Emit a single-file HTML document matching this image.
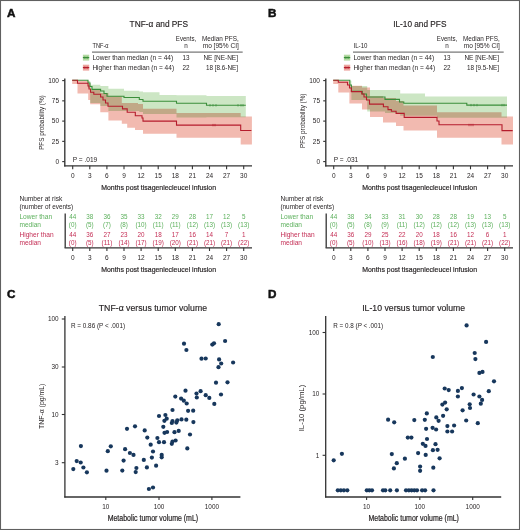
<!DOCTYPE html>
<html><head><meta charset="utf-8"><style>
html,body{margin:0;padding:0;background:#fff;}
.wrap{position:relative;width:520px;height:530px;overflow:hidden;background:#fff;}
svg{position:absolute;left:0;top:0;font-family:"Liberation Sans", sans-serif;}
</style></head><body><div class="wrap">
<svg width="520" height="530" viewBox="0 0 520 530">
<rect x="0.5" y="0.5" width="519" height="529" fill="#fff" stroke="#606060" stroke-width="1.1"/>
<text x="158.8" y="26.6" font-size="8.6" text-anchor="middle" textLength="58.4" lengthAdjust="spacingAndGlyphs" fill="#231f20" stroke="#231f20" stroke-width="0.15">TNF-α and PFS</text>
<text x="92.5" y="47.6" font-size="6.3" textLength="16" lengthAdjust="spacingAndGlyphs" fill="#231f20">TNF-α</text>
<text x="186" y="40.8" font-size="6.3" text-anchor="middle" textLength="20.4" lengthAdjust="spacingAndGlyphs" fill="#231f20">Events,</text>
<text x="186" y="47.6" font-size="6.3" text-anchor="middle" fill="#231f20">n</text>
<text x="238.8" y="40.8" font-size="6.3" text-anchor="end" textLength="36.9" lengthAdjust="spacingAndGlyphs" fill="#231f20">Median PFS,</text>
<text x="238.8" y="47.6" font-size="6.3" text-anchor="end" textLength="36.1" lengthAdjust="spacingAndGlyphs" fill="#231f20">mo [95% CI]</text>
<line x1="92" y1="52.1" x2="242.7" y2="52.1" stroke="#444" stroke-width="0.9"/>
<rect x="82.9" y="54.7" width="6.3" height="5.9" fill="#b3daa3"/>
<line x1="82.9" y1="57.6" x2="89.2" y2="57.6" stroke="#3a8e3a" stroke-width="1.2"/>
<line x1="84.4" y1="56.5" x2="84.4" y2="58.7" stroke="#3a8e3a" stroke-width="0.6"/>
<line x1="86" y1="56.5" x2="86" y2="58.7" stroke="#3a8e3a" stroke-width="0.6"/>
<line x1="87.6" y1="56.5" x2="87.6" y2="58.7" stroke="#3a8e3a" stroke-width="0.6"/>
<rect x="82.9" y="64.69999999999999" width="6.3" height="5.9" fill="#eda59f"/>
<line x1="82.9" y1="67.6" x2="89.2" y2="67.6" stroke="#b51c2c" stroke-width="1.2"/>
<line x1="84.4" y1="66.5" x2="84.4" y2="68.69999999999999" stroke="#b51c2c" stroke-width="0.6"/>
<line x1="86" y1="66.5" x2="86" y2="68.69999999999999" stroke="#b51c2c" stroke-width="0.6"/>
<line x1="87.6" y1="66.5" x2="87.6" y2="68.69999999999999" stroke="#b51c2c" stroke-width="0.6"/>
<text x="92.4" y="59.9" font-size="6.3" textLength="80.8" lengthAdjust="spacingAndGlyphs" fill="#231f20">Lower than median (n = 44)</text>
<text x="92.4" y="70.1" font-size="6.3" textLength="81.7" lengthAdjust="spacingAndGlyphs" fill="#231f20">Higher than median (n = 44)</text>
<text x="186" y="59.9" font-size="6.3" text-anchor="middle" fill="#231f20">13</text>
<text x="186" y="70.1" font-size="6.3" text-anchor="middle" fill="#231f20">22</text>
<text x="238" y="59.9" font-size="6.3" text-anchor="end" textLength="34.6" lengthAdjust="spacingAndGlyphs" fill="#231f20">NE [NE-NE]</text>
<text x="238" y="70.1" font-size="6.3" text-anchor="end" textLength="32" lengthAdjust="spacingAndGlyphs" fill="#231f20">18 [8.6-NE]</text>
<path d="M72.2,80.3V80.3H88V81H90.2V84.7H100.3V86H108.4V88.8H124V90.8H139.3V91.5H143V92.2H159.5V95.1H176.5V95.2H206.5V96H245.8V117.3H206.5V117.5H176.5V113.9H159.5V113.9H143V112H139.3V111H124V111H108.4V106H100.3V102.9H90.2V88H88V80.3H72.2Z" fill="#cce6c4" style="mix-blend-mode:multiply"/>
<path d="M72.2,80.3V80.3H77.5V80.8H88.2V84H90.2V89.5H100.3V93H108.4V96.2H121.8V102.9H127.2V102.9H135V102.9H138V104H143V108.8H176.5V113H240.7V116.4H251.9V144.4H240.7V137.8H176.5V133.8H143V130H138V130H135V127.8H127.2V123.8H121.8V120.4H108.4V112.3H100.3V104.3H90.2V100H88.2V93.5H77.5V84H72.2Z" fill="#f2bab0" style="mix-blend-mode:multiply"/>
<path d="M72.2,80.3H88V83H90V86.5H92V89.4H100.6V91H104V93.5H107V96.2H124V97.5H139.3V99.5H143V101.2H176.5V103.3H206.5V105.3H245.8" fill="none" stroke="#3a8e3a" stroke-width="1.1"/>
<path d="M72.2,80.3H77.5V83.2H88V86H89V89H90.5V92.3H93.8V94.2H100.6V97H103V100H105.5V103H108V106.2H122.5V108.9H127.2V112.3H135.3V115.7H142V118H143V121.1H176.5V125.1H240.7V130.5H251.4" fill="none" stroke="#b51c2c" stroke-width="1.1"/>
<line x1="210" y1="104.1" x2="210" y2="106.5" stroke="#3a8e3a" stroke-width="0.7"/>
<line x1="213" y1="104.1" x2="213" y2="106.5" stroke="#3a8e3a" stroke-width="0.7"/>
<line x1="216" y1="104.1" x2="216" y2="106.5" stroke="#3a8e3a" stroke-width="0.7"/>
<line x1="238" y1="104.1" x2="238" y2="106.5" stroke="#3a8e3a" stroke-width="0.7"/>
<line x1="241" y1="104.1" x2="241" y2="106.5" stroke="#3a8e3a" stroke-width="0.7"/>
<line x1="243" y1="104.1" x2="243" y2="106.5" stroke="#3a8e3a" stroke-width="0.7"/>
<line x1="213" y1="123.89999999999999" x2="213" y2="126.3" stroke="#b51c2c" stroke-width="0.7"/>
<line x1="215" y1="123.89999999999999" x2="215" y2="126.3" stroke="#b51c2c" stroke-width="0.7"/>
<line x1="64.8" y1="78.5" x2="64.8" y2="166.4" stroke="#333" stroke-width="1.35"/>
<line x1="64.2" y1="165.8" x2="252" y2="165.8" stroke="#333" stroke-width="1.3"/>
<line x1="62.2" y1="80.6" x2="64.8" y2="80.6" stroke="#333" stroke-width="1.1"/>
<text x="59" y="82.89999999999999" font-size="6.5" text-anchor="end" fill="#231f20">100</text>
<line x1="62.2" y1="100.85" x2="64.8" y2="100.85" stroke="#333" stroke-width="1.1"/>
<text x="59" y="103.14999999999999" font-size="6.5" text-anchor="end" fill="#231f20">75</text>
<line x1="62.2" y1="121.1" x2="64.8" y2="121.1" stroke="#333" stroke-width="1.1"/>
<text x="59" y="123.39999999999999" font-size="6.5" text-anchor="end" fill="#231f20">50</text>
<line x1="62.2" y1="141.35" x2="64.8" y2="141.35" stroke="#333" stroke-width="1.1"/>
<text x="59" y="143.65" font-size="6.5" text-anchor="end" fill="#231f20">25</text>
<line x1="62.2" y1="161.6" x2="64.8" y2="161.6" stroke="#333" stroke-width="1.1"/>
<text x="59" y="163.9" font-size="6.5" text-anchor="end" fill="#231f20">0</text>
<line x1="72.7" y1="165.8" x2="72.7" y2="169.3" stroke="#333" stroke-width="1.1"/>
<text x="72.7" y="177.6" font-size="6.5" text-anchor="middle" fill="#231f20">0</text>
<line x1="89.80000000000001" y1="165.8" x2="89.80000000000001" y2="169.3" stroke="#333" stroke-width="1.1"/>
<text x="89.80000000000001" y="177.6" font-size="6.5" text-anchor="middle" fill="#231f20">3</text>
<line x1="106.9" y1="165.8" x2="106.9" y2="169.3" stroke="#333" stroke-width="1.1"/>
<text x="106.9" y="177.6" font-size="6.5" text-anchor="middle" fill="#231f20">6</text>
<line x1="124.0" y1="165.8" x2="124.0" y2="169.3" stroke="#333" stroke-width="1.1"/>
<text x="124.0" y="177.6" font-size="6.5" text-anchor="middle" fill="#231f20">9</text>
<line x1="141.10000000000002" y1="165.8" x2="141.10000000000002" y2="169.3" stroke="#333" stroke-width="1.1"/>
<text x="141.10000000000002" y="177.6" font-size="6.5" text-anchor="middle" fill="#231f20">12</text>
<line x1="158.2" y1="165.8" x2="158.2" y2="169.3" stroke="#333" stroke-width="1.1"/>
<text x="158.2" y="177.6" font-size="6.5" text-anchor="middle" fill="#231f20">15</text>
<line x1="175.3" y1="165.8" x2="175.3" y2="169.3" stroke="#333" stroke-width="1.1"/>
<text x="175.3" y="177.6" font-size="6.5" text-anchor="middle" fill="#231f20">18</text>
<line x1="192.40000000000003" y1="165.8" x2="192.40000000000003" y2="169.3" stroke="#333" stroke-width="1.1"/>
<text x="192.40000000000003" y="177.6" font-size="6.5" text-anchor="middle" fill="#231f20">21</text>
<line x1="209.5" y1="165.8" x2="209.5" y2="169.3" stroke="#333" stroke-width="1.1"/>
<text x="209.5" y="177.6" font-size="6.5" text-anchor="middle" fill="#231f20">24</text>
<line x1="226.60000000000002" y1="165.8" x2="226.60000000000002" y2="169.3" stroke="#333" stroke-width="1.1"/>
<text x="226.60000000000002" y="177.6" font-size="6.5" text-anchor="middle" fill="#231f20">27</text>
<line x1="243.7" y1="165.8" x2="243.7" y2="169.3" stroke="#333" stroke-width="1.1"/>
<text x="243.7" y="177.6" font-size="6.5" text-anchor="middle" fill="#231f20">30</text>
<text x="158.6" y="189.6" font-size="8.1" text-anchor="middle" textLength="114.8" lengthAdjust="spacingAndGlyphs" fill="#231f20" stroke="#231f20" stroke-width="0.2">Months post tisagenlecleucel infusion</text>
<text x="44.3" y="122.6" font-size="7" text-anchor="middle" textLength="54.5" lengthAdjust="spacingAndGlyphs" fill="#231f20" transform="rotate(-90 44.3 122.6)">PFS probability (%)</text>
<text x="72.7" y="161.5" font-size="6.3" textLength="24.6" lengthAdjust="spacingAndGlyphs" fill="#231f20">P = .019</text>
<text x="19.4" y="201" font-size="6.3" textLength="42.9" lengthAdjust="spacingAndGlyphs" fill="#231f20">Number at risk</text>
<text x="19.4" y="208.5" font-size="6.3" textLength="53.8" lengthAdjust="spacingAndGlyphs" fill="#231f20">(number of events)</text>
<text x="19.4" y="219.1" font-size="6.3" textLength="32.7" lengthAdjust="spacingAndGlyphs" fill="#5cb05c">Lower than</text>
<text x="19.4" y="226.7" font-size="6.3" textLength="21.6" lengthAdjust="spacingAndGlyphs" fill="#5cb05c">median</text>
<text x="19.4" y="236.7" font-size="6.3" textLength="34.2" lengthAdjust="spacingAndGlyphs" fill="#c42e55">Higher than</text>
<text x="19.4" y="244.7" font-size="6.3" textLength="21.6" lengthAdjust="spacingAndGlyphs" fill="#c42e55">median</text>
<line x1="65.2" y1="213.5" x2="65.2" y2="247.8" stroke="#333" stroke-width="1.3"/>
<line x1="64.55" y1="247.8" x2="252" y2="247.8" stroke="#333" stroke-width="1.3"/>
<line x1="72.7" y1="247.8" x2="72.7" y2="251" stroke="#333" stroke-width="1.1"/>
<text x="72.7" y="259.7" font-size="6.5" text-anchor="middle" fill="#231f20">0</text>
<text x="72.7" y="219.1" font-size="6.3" text-anchor="middle" fill="#5cb05c">44</text>
<text x="72.7" y="226.7" font-size="6.3" text-anchor="middle" fill="#5cb05c">(0)</text>
<text x="72.7" y="236.7" font-size="6.3" text-anchor="middle" fill="#c42e55">44</text>
<text x="72.7" y="244.6" font-size="6.3" text-anchor="middle" fill="#c42e55">(0)</text>
<line x1="89.80000000000001" y1="247.8" x2="89.80000000000001" y2="251" stroke="#333" stroke-width="1.1"/>
<text x="89.80000000000001" y="259.7" font-size="6.5" text-anchor="middle" fill="#231f20">3</text>
<text x="89.80000000000001" y="219.1" font-size="6.3" text-anchor="middle" fill="#5cb05c">38</text>
<text x="89.80000000000001" y="226.7" font-size="6.3" text-anchor="middle" fill="#5cb05c">(5)</text>
<text x="89.80000000000001" y="236.7" font-size="6.3" text-anchor="middle" fill="#c42e55">36</text>
<text x="89.80000000000001" y="244.6" font-size="6.3" text-anchor="middle" fill="#c42e55">(5)</text>
<line x1="106.9" y1="247.8" x2="106.9" y2="251" stroke="#333" stroke-width="1.1"/>
<text x="106.9" y="259.7" font-size="6.5" text-anchor="middle" fill="#231f20">6</text>
<text x="106.9" y="219.1" font-size="6.3" text-anchor="middle" fill="#5cb05c">36</text>
<text x="106.9" y="226.7" font-size="6.3" text-anchor="middle" fill="#5cb05c">(7)</text>
<text x="106.9" y="236.7" font-size="6.3" text-anchor="middle" fill="#c42e55">27</text>
<text x="106.9" y="244.6" font-size="6.3" text-anchor="middle" fill="#c42e55">(11)</text>
<line x1="124.0" y1="247.8" x2="124.0" y2="251" stroke="#333" stroke-width="1.1"/>
<text x="124.0" y="259.7" font-size="6.5" text-anchor="middle" fill="#231f20">9</text>
<text x="124.0" y="219.1" font-size="6.3" text-anchor="middle" fill="#5cb05c">35</text>
<text x="124.0" y="226.7" font-size="6.3" text-anchor="middle" fill="#5cb05c">(8)</text>
<text x="124.0" y="236.7" font-size="6.3" text-anchor="middle" fill="#c42e55">23</text>
<text x="124.0" y="244.6" font-size="6.3" text-anchor="middle" fill="#c42e55">(14)</text>
<line x1="141.10000000000002" y1="247.8" x2="141.10000000000002" y2="251" stroke="#333" stroke-width="1.1"/>
<text x="141.10000000000002" y="259.7" font-size="6.5" text-anchor="middle" fill="#231f20">12</text>
<text x="141.10000000000002" y="219.1" font-size="6.3" text-anchor="middle" fill="#5cb05c">33</text>
<text x="141.10000000000002" y="226.7" font-size="6.3" text-anchor="middle" fill="#5cb05c">(10)</text>
<text x="141.10000000000002" y="236.7" font-size="6.3" text-anchor="middle" fill="#c42e55">20</text>
<text x="141.10000000000002" y="244.6" font-size="6.3" text-anchor="middle" fill="#c42e55">(17)</text>
<line x1="158.2" y1="247.8" x2="158.2" y2="251" stroke="#333" stroke-width="1.1"/>
<text x="158.2" y="259.7" font-size="6.5" text-anchor="middle" fill="#231f20">15</text>
<text x="158.2" y="219.1" font-size="6.3" text-anchor="middle" fill="#5cb05c">32</text>
<text x="158.2" y="226.7" font-size="6.3" text-anchor="middle" fill="#5cb05c">(11)</text>
<text x="158.2" y="236.7" font-size="6.3" text-anchor="middle" fill="#c42e55">18</text>
<text x="158.2" y="244.6" font-size="6.3" text-anchor="middle" fill="#c42e55">(19)</text>
<line x1="175.3" y1="247.8" x2="175.3" y2="251" stroke="#333" stroke-width="1.1"/>
<text x="175.3" y="259.7" font-size="6.5" text-anchor="middle" fill="#231f20">18</text>
<text x="175.3" y="219.1" font-size="6.3" text-anchor="middle" fill="#5cb05c">29</text>
<text x="175.3" y="226.7" font-size="6.3" text-anchor="middle" fill="#5cb05c">(11)</text>
<text x="175.3" y="236.7" font-size="6.3" text-anchor="middle" fill="#c42e55">17</text>
<text x="175.3" y="244.6" font-size="6.3" text-anchor="middle" fill="#c42e55">(20)</text>
<line x1="192.40000000000003" y1="247.8" x2="192.40000000000003" y2="251" stroke="#333" stroke-width="1.1"/>
<text x="192.40000000000003" y="259.7" font-size="6.5" text-anchor="middle" fill="#231f20">21</text>
<text x="192.40000000000003" y="219.1" font-size="6.3" text-anchor="middle" fill="#5cb05c">28</text>
<text x="192.40000000000003" y="226.7" font-size="6.3" text-anchor="middle" fill="#5cb05c">(12)</text>
<text x="192.40000000000003" y="236.7" font-size="6.3" text-anchor="middle" fill="#c42e55">16</text>
<text x="192.40000000000003" y="244.6" font-size="6.3" text-anchor="middle" fill="#c42e55">(21)</text>
<line x1="209.5" y1="247.8" x2="209.5" y2="251" stroke="#333" stroke-width="1.1"/>
<text x="209.5" y="259.7" font-size="6.5" text-anchor="middle" fill="#231f20">24</text>
<text x="209.5" y="219.1" font-size="6.3" text-anchor="middle" fill="#5cb05c">17</text>
<text x="209.5" y="226.7" font-size="6.3" text-anchor="middle" fill="#5cb05c">(13)</text>
<text x="209.5" y="236.7" font-size="6.3" text-anchor="middle" fill="#c42e55">14</text>
<text x="209.5" y="244.6" font-size="6.3" text-anchor="middle" fill="#c42e55">(21)</text>
<line x1="226.60000000000002" y1="247.8" x2="226.60000000000002" y2="251" stroke="#333" stroke-width="1.1"/>
<text x="226.60000000000002" y="259.7" font-size="6.5" text-anchor="middle" fill="#231f20">27</text>
<text x="226.60000000000002" y="219.1" font-size="6.3" text-anchor="middle" fill="#5cb05c">12</text>
<text x="226.60000000000002" y="226.7" font-size="6.3" text-anchor="middle" fill="#5cb05c">(13)</text>
<text x="226.60000000000002" y="236.7" font-size="6.3" text-anchor="middle" fill="#c42e55">7</text>
<text x="226.60000000000002" y="244.6" font-size="6.3" text-anchor="middle" fill="#c42e55">(21)</text>
<line x1="243.7" y1="247.8" x2="243.7" y2="251" stroke="#333" stroke-width="1.1"/>
<text x="243.7" y="259.7" font-size="6.5" text-anchor="middle" fill="#231f20">30</text>
<text x="243.7" y="219.1" font-size="6.3" text-anchor="middle" fill="#5cb05c">5</text>
<text x="243.7" y="226.7" font-size="6.3" text-anchor="middle" fill="#5cb05c">(13)</text>
<text x="243.7" y="236.7" font-size="6.3" text-anchor="middle" fill="#c42e55">1</text>
<text x="243.7" y="244.6" font-size="6.3" text-anchor="middle" fill="#c42e55">(22)</text>
<text x="158.6" y="271.5" font-size="8.1" text-anchor="middle" textLength="114.8" lengthAdjust="spacingAndGlyphs" fill="#231f20" stroke="#231f20" stroke-width="0.2">Months post tisagenlecleucel infusion</text>
<text x="419.8" y="26.6" font-size="8.6" text-anchor="middle" textLength="53.2" lengthAdjust="spacingAndGlyphs" fill="#231f20" stroke="#231f20" stroke-width="0.15">IL-10 and PFS</text>
<text x="353.5" y="47.6" font-size="6.3" textLength="14" lengthAdjust="spacingAndGlyphs" fill="#231f20">IL-10</text>
<text x="447" y="40.8" font-size="6.3" text-anchor="middle" textLength="20.4" lengthAdjust="spacingAndGlyphs" fill="#231f20">Events,</text>
<text x="447" y="47.6" font-size="6.3" text-anchor="middle" fill="#231f20">n</text>
<text x="499.8" y="40.8" font-size="6.3" text-anchor="end" textLength="36.9" lengthAdjust="spacingAndGlyphs" fill="#231f20">Median PFS,</text>
<text x="499.8" y="47.6" font-size="6.3" text-anchor="end" textLength="36.1" lengthAdjust="spacingAndGlyphs" fill="#231f20">mo [95% CI]</text>
<line x1="353" y1="52.1" x2="503.7" y2="52.1" stroke="#444" stroke-width="0.9"/>
<rect x="343.9" y="54.7" width="6.3" height="5.9" fill="#b3daa3"/>
<line x1="343.9" y1="57.6" x2="350.2" y2="57.6" stroke="#3a8e3a" stroke-width="1.2"/>
<line x1="345.4" y1="56.5" x2="345.4" y2="58.7" stroke="#3a8e3a" stroke-width="0.6"/>
<line x1="347" y1="56.5" x2="347" y2="58.7" stroke="#3a8e3a" stroke-width="0.6"/>
<line x1="348.6" y1="56.5" x2="348.6" y2="58.7" stroke="#3a8e3a" stroke-width="0.6"/>
<rect x="343.9" y="64.69999999999999" width="6.3" height="5.9" fill="#eda59f"/>
<line x1="343.9" y1="67.6" x2="350.2" y2="67.6" stroke="#b51c2c" stroke-width="1.2"/>
<line x1="345.4" y1="66.5" x2="345.4" y2="68.69999999999999" stroke="#b51c2c" stroke-width="0.6"/>
<line x1="347" y1="66.5" x2="347" y2="68.69999999999999" stroke="#b51c2c" stroke-width="0.6"/>
<line x1="348.6" y1="66.5" x2="348.6" y2="68.69999999999999" stroke="#b51c2c" stroke-width="0.6"/>
<text x="353.4" y="59.9" font-size="6.3" textLength="80.8" lengthAdjust="spacingAndGlyphs" fill="#231f20">Lower than median (n = 44)</text>
<text x="353.4" y="70.1" font-size="6.3" textLength="81.7" lengthAdjust="spacingAndGlyphs" fill="#231f20">Higher than median (n = 44)</text>
<text x="447" y="59.9" font-size="6.3" text-anchor="middle" fill="#231f20">13</text>
<text x="447" y="70.1" font-size="6.3" text-anchor="middle" fill="#231f20">22</text>
<text x="499" y="59.9" font-size="6.3" text-anchor="end" textLength="34.6" lengthAdjust="spacingAndGlyphs" fill="#231f20">NE [NE-NE]</text>
<text x="499" y="70.1" font-size="6.3" text-anchor="end" textLength="32" lengthAdjust="spacingAndGlyphs" fill="#231f20">18 [9.5-NE]</text>
<path d="M333.2,80.3V80.3H349.4V80.7H351.4V86.1H367.2V90.1H385V90.1H400.2V93.5H425V96.6H437V96.6H507V117.8H437V115.7H425V115.7H400.2V113H385V111.6H367.2V100H351.4V86H349.4V80.3H333.2Z" fill="#cce6c4" style="mix-blend-mode:multiply"/>
<path d="M333.2,80.3V80.3H338.3V81H349.4V85.8H362V87.5H370V96.2H383V98H396V101H403.5V105.5H437V112.3H501.5V116.5H513V144.5H501.5V137.8H437V130.5H403.5V126H396V122.4H383V117H370V109.6H362V103.6H349.4V92.5H338.3V84H333.2Z" fill="#f2bab0" style="mix-blend-mode:multiply"/>
<path d="M333.2,80.3H349.8V85H351.4V91.4H362.3V94H366.5V97H385V99.4H399.5V102H403.8V103.3H466.8V105.1H507" fill="none" stroke="#3a8e3a" stroke-width="1.1"/>
<path d="M333.2,80.3H338.3V82.2H347.5V85H349.5V88H351.4V91.6H361.8V94H364V97H366.5V100H369.5V104.1H383.4V106.8H388V109.6H391.4V111.2H396.1V113.4H404.2V117.4H437V121H439V124.8H502V130.6H512.7" fill="none" stroke="#b51c2c" stroke-width="1.1"/>
<line x1="471" y1="103.89999999999999" x2="471" y2="106.3" stroke="#3a8e3a" stroke-width="0.7"/>
<line x1="474" y1="103.89999999999999" x2="474" y2="106.3" stroke="#3a8e3a" stroke-width="0.7"/>
<line x1="477" y1="103.89999999999999" x2="477" y2="106.3" stroke="#3a8e3a" stroke-width="0.7"/>
<line x1="502" y1="103.89999999999999" x2="502" y2="106.3" stroke="#3a8e3a" stroke-width="0.7"/>
<line x1="504" y1="103.89999999999999" x2="504" y2="106.3" stroke="#3a8e3a" stroke-width="0.7"/>
<line x1="469" y1="123.8" x2="469" y2="126.2" stroke="#b51c2c" stroke-width="0.7"/>
<line x1="471" y1="123.8" x2="471" y2="126.2" stroke="#b51c2c" stroke-width="0.7"/>
<line x1="473" y1="123.8" x2="473" y2="126.2" stroke="#b51c2c" stroke-width="0.7"/>
<line x1="325.8" y1="78.5" x2="325.8" y2="166.4" stroke="#333" stroke-width="1.35"/>
<line x1="325.2" y1="165.8" x2="513" y2="165.8" stroke="#333" stroke-width="1.3"/>
<line x1="323.2" y1="80.6" x2="325.8" y2="80.6" stroke="#333" stroke-width="1.1"/>
<text x="320" y="82.89999999999999" font-size="6.5" text-anchor="end" fill="#231f20">100</text>
<line x1="323.2" y1="100.85" x2="325.8" y2="100.85" stroke="#333" stroke-width="1.1"/>
<text x="320" y="103.14999999999999" font-size="6.5" text-anchor="end" fill="#231f20">75</text>
<line x1="323.2" y1="121.1" x2="325.8" y2="121.1" stroke="#333" stroke-width="1.1"/>
<text x="320" y="123.39999999999999" font-size="6.5" text-anchor="end" fill="#231f20">50</text>
<line x1="323.2" y1="141.35" x2="325.8" y2="141.35" stroke="#333" stroke-width="1.1"/>
<text x="320" y="143.65" font-size="6.5" text-anchor="end" fill="#231f20">25</text>
<line x1="323.2" y1="161.6" x2="325.8" y2="161.6" stroke="#333" stroke-width="1.1"/>
<text x="320" y="163.9" font-size="6.5" text-anchor="end" fill="#231f20">0</text>
<line x1="333.7" y1="165.8" x2="333.7" y2="169.3" stroke="#333" stroke-width="1.1"/>
<text x="333.7" y="177.6" font-size="6.5" text-anchor="middle" fill="#231f20">0</text>
<line x1="350.8" y1="165.8" x2="350.8" y2="169.3" stroke="#333" stroke-width="1.1"/>
<text x="350.8" y="177.6" font-size="6.5" text-anchor="middle" fill="#231f20">3</text>
<line x1="367.9" y1="165.8" x2="367.9" y2="169.3" stroke="#333" stroke-width="1.1"/>
<text x="367.9" y="177.6" font-size="6.5" text-anchor="middle" fill="#231f20">6</text>
<line x1="385.0" y1="165.8" x2="385.0" y2="169.3" stroke="#333" stroke-width="1.1"/>
<text x="385.0" y="177.6" font-size="6.5" text-anchor="middle" fill="#231f20">9</text>
<line x1="402.1" y1="165.8" x2="402.1" y2="169.3" stroke="#333" stroke-width="1.1"/>
<text x="402.1" y="177.6" font-size="6.5" text-anchor="middle" fill="#231f20">12</text>
<line x1="419.2" y1="165.8" x2="419.2" y2="169.3" stroke="#333" stroke-width="1.1"/>
<text x="419.2" y="177.6" font-size="6.5" text-anchor="middle" fill="#231f20">15</text>
<line x1="436.3" y1="165.8" x2="436.3" y2="169.3" stroke="#333" stroke-width="1.1"/>
<text x="436.3" y="177.6" font-size="6.5" text-anchor="middle" fill="#231f20">18</text>
<line x1="453.40000000000003" y1="165.8" x2="453.40000000000003" y2="169.3" stroke="#333" stroke-width="1.1"/>
<text x="453.40000000000003" y="177.6" font-size="6.5" text-anchor="middle" fill="#231f20">21</text>
<line x1="470.5" y1="165.8" x2="470.5" y2="169.3" stroke="#333" stroke-width="1.1"/>
<text x="470.5" y="177.6" font-size="6.5" text-anchor="middle" fill="#231f20">24</text>
<line x1="487.6" y1="165.8" x2="487.6" y2="169.3" stroke="#333" stroke-width="1.1"/>
<text x="487.6" y="177.6" font-size="6.5" text-anchor="middle" fill="#231f20">27</text>
<line x1="504.7" y1="165.8" x2="504.7" y2="169.3" stroke="#333" stroke-width="1.1"/>
<text x="504.7" y="177.6" font-size="6.5" text-anchor="middle" fill="#231f20">30</text>
<text x="419.6" y="189.6" font-size="8.1" text-anchor="middle" textLength="114.8" lengthAdjust="spacingAndGlyphs" fill="#231f20" stroke="#231f20" stroke-width="0.2">Months post tisagenlecleucel infusion</text>
<text x="305.3" y="120.8" font-size="7" text-anchor="middle" textLength="54.5" lengthAdjust="spacingAndGlyphs" fill="#231f20" transform="rotate(-90 305.3 120.8)">PFS probability (%)</text>
<text x="333.7" y="161.5" font-size="6.3" textLength="24.6" lengthAdjust="spacingAndGlyphs" fill="#231f20">P = .031</text>
<text x="280.4" y="201" font-size="6.3" textLength="42.9" lengthAdjust="spacingAndGlyphs" fill="#231f20">Number at risk</text>
<text x="280.4" y="208.5" font-size="6.3" textLength="53.8" lengthAdjust="spacingAndGlyphs" fill="#231f20">(number of events)</text>
<text x="280.4" y="219.1" font-size="6.3" textLength="32.7" lengthAdjust="spacingAndGlyphs" fill="#5cb05c">Lower than</text>
<text x="280.4" y="226.7" font-size="6.3" textLength="21.6" lengthAdjust="spacingAndGlyphs" fill="#5cb05c">median</text>
<text x="280.4" y="236.7" font-size="6.3" textLength="34.2" lengthAdjust="spacingAndGlyphs" fill="#c42e55">Higher than</text>
<text x="280.4" y="244.7" font-size="6.3" textLength="21.6" lengthAdjust="spacingAndGlyphs" fill="#c42e55">median</text>
<line x1="326.2" y1="213.5" x2="326.2" y2="247.8" stroke="#333" stroke-width="1.3"/>
<line x1="325.55" y1="247.8" x2="513" y2="247.8" stroke="#333" stroke-width="1.3"/>
<line x1="333.7" y1="247.8" x2="333.7" y2="251" stroke="#333" stroke-width="1.1"/>
<text x="333.7" y="259.7" font-size="6.5" text-anchor="middle" fill="#231f20">0</text>
<text x="333.7" y="219.1" font-size="6.3" text-anchor="middle" fill="#5cb05c">44</text>
<text x="333.7" y="226.7" font-size="6.3" text-anchor="middle" fill="#5cb05c">(0)</text>
<text x="333.7" y="236.7" font-size="6.3" text-anchor="middle" fill="#c42e55">44</text>
<text x="333.7" y="244.6" font-size="6.3" text-anchor="middle" fill="#c42e55">(0)</text>
<line x1="350.8" y1="247.8" x2="350.8" y2="251" stroke="#333" stroke-width="1.1"/>
<text x="350.8" y="259.7" font-size="6.5" text-anchor="middle" fill="#231f20">3</text>
<text x="350.8" y="219.1" font-size="6.3" text-anchor="middle" fill="#5cb05c">38</text>
<text x="350.8" y="226.7" font-size="6.3" text-anchor="middle" fill="#5cb05c">(5)</text>
<text x="350.8" y="236.7" font-size="6.3" text-anchor="middle" fill="#c42e55">36</text>
<text x="350.8" y="244.6" font-size="6.3" text-anchor="middle" fill="#c42e55">(5)</text>
<line x1="367.9" y1="247.8" x2="367.9" y2="251" stroke="#333" stroke-width="1.1"/>
<text x="367.9" y="259.7" font-size="6.5" text-anchor="middle" fill="#231f20">6</text>
<text x="367.9" y="219.1" font-size="6.3" text-anchor="middle" fill="#5cb05c">34</text>
<text x="367.9" y="226.7" font-size="6.3" text-anchor="middle" fill="#5cb05c">(8)</text>
<text x="367.9" y="236.7" font-size="6.3" text-anchor="middle" fill="#c42e55">29</text>
<text x="367.9" y="244.6" font-size="6.3" text-anchor="middle" fill="#c42e55">(10)</text>
<line x1="385.0" y1="247.8" x2="385.0" y2="251" stroke="#333" stroke-width="1.1"/>
<text x="385.0" y="259.7" font-size="6.5" text-anchor="middle" fill="#231f20">9</text>
<text x="385.0" y="219.1" font-size="6.3" text-anchor="middle" fill="#5cb05c">33</text>
<text x="385.0" y="226.7" font-size="6.3" text-anchor="middle" fill="#5cb05c">(9)</text>
<text x="385.0" y="236.7" font-size="6.3" text-anchor="middle" fill="#c42e55">25</text>
<text x="385.0" y="244.6" font-size="6.3" text-anchor="middle" fill="#c42e55">(13)</text>
<line x1="402.1" y1="247.8" x2="402.1" y2="251" stroke="#333" stroke-width="1.1"/>
<text x="402.1" y="259.7" font-size="6.5" text-anchor="middle" fill="#231f20">12</text>
<text x="402.1" y="219.1" font-size="6.3" text-anchor="middle" fill="#5cb05c">31</text>
<text x="402.1" y="226.7" font-size="6.3" text-anchor="middle" fill="#5cb05c">(11)</text>
<text x="402.1" y="236.7" font-size="6.3" text-anchor="middle" fill="#c42e55">22</text>
<text x="402.1" y="244.6" font-size="6.3" text-anchor="middle" fill="#c42e55">(16)</text>
<line x1="419.2" y1="247.8" x2="419.2" y2="251" stroke="#333" stroke-width="1.1"/>
<text x="419.2" y="259.7" font-size="6.5" text-anchor="middle" fill="#231f20">15</text>
<text x="419.2" y="219.1" font-size="6.3" text-anchor="middle" fill="#5cb05c">30</text>
<text x="419.2" y="226.7" font-size="6.3" text-anchor="middle" fill="#5cb05c">(12)</text>
<text x="419.2" y="236.7" font-size="6.3" text-anchor="middle" fill="#c42e55">20</text>
<text x="419.2" y="244.6" font-size="6.3" text-anchor="middle" fill="#c42e55">(18)</text>
<line x1="436.3" y1="247.8" x2="436.3" y2="251" stroke="#333" stroke-width="1.1"/>
<text x="436.3" y="259.7" font-size="6.5" text-anchor="middle" fill="#231f20">18</text>
<text x="436.3" y="219.1" font-size="6.3" text-anchor="middle" fill="#5cb05c">28</text>
<text x="436.3" y="226.7" font-size="6.3" text-anchor="middle" fill="#5cb05c">(12)</text>
<text x="436.3" y="236.7" font-size="6.3" text-anchor="middle" fill="#c42e55">18</text>
<text x="436.3" y="244.6" font-size="6.3" text-anchor="middle" fill="#c42e55">(19)</text>
<line x1="453.40000000000003" y1="247.8" x2="453.40000000000003" y2="251" stroke="#333" stroke-width="1.1"/>
<text x="453.40000000000003" y="259.7" font-size="6.5" text-anchor="middle" fill="#231f20">21</text>
<text x="453.40000000000003" y="219.1" font-size="6.3" text-anchor="middle" fill="#5cb05c">28</text>
<text x="453.40000000000003" y="226.7" font-size="6.3" text-anchor="middle" fill="#5cb05c">(12)</text>
<text x="453.40000000000003" y="236.7" font-size="6.3" text-anchor="middle" fill="#c42e55">16</text>
<text x="453.40000000000003" y="244.6" font-size="6.3" text-anchor="middle" fill="#c42e55">(21)</text>
<line x1="470.5" y1="247.8" x2="470.5" y2="251" stroke="#333" stroke-width="1.1"/>
<text x="470.5" y="259.7" font-size="6.5" text-anchor="middle" fill="#231f20">24</text>
<text x="470.5" y="219.1" font-size="6.3" text-anchor="middle" fill="#5cb05c">19</text>
<text x="470.5" y="226.7" font-size="6.3" text-anchor="middle" fill="#5cb05c">(13)</text>
<text x="470.5" y="236.7" font-size="6.3" text-anchor="middle" fill="#c42e55">12</text>
<text x="470.5" y="244.6" font-size="6.3" text-anchor="middle" fill="#c42e55">(21)</text>
<line x1="487.6" y1="247.8" x2="487.6" y2="251" stroke="#333" stroke-width="1.1"/>
<text x="487.6" y="259.7" font-size="6.5" text-anchor="middle" fill="#231f20">27</text>
<text x="487.6" y="219.1" font-size="6.3" text-anchor="middle" fill="#5cb05c">13</text>
<text x="487.6" y="226.7" font-size="6.3" text-anchor="middle" fill="#5cb05c">(13)</text>
<text x="487.6" y="236.7" font-size="6.3" text-anchor="middle" fill="#c42e55">6</text>
<text x="487.6" y="244.6" font-size="6.3" text-anchor="middle" fill="#c42e55">(21)</text>
<line x1="504.7" y1="247.8" x2="504.7" y2="251" stroke="#333" stroke-width="1.1"/>
<text x="504.7" y="259.7" font-size="6.5" text-anchor="middle" fill="#231f20">30</text>
<text x="504.7" y="219.1" font-size="6.3" text-anchor="middle" fill="#5cb05c">5</text>
<text x="504.7" y="226.7" font-size="6.3" text-anchor="middle" fill="#5cb05c">(13)</text>
<text x="504.7" y="236.7" font-size="6.3" text-anchor="middle" fill="#c42e55">1</text>
<text x="504.7" y="244.6" font-size="6.3" text-anchor="middle" fill="#c42e55">(22)</text>
<text x="419.6" y="271.5" font-size="8.1" text-anchor="middle" textLength="114.8" lengthAdjust="spacingAndGlyphs" fill="#231f20" stroke="#231f20" stroke-width="0.2">Months post tisagenlecleucel infusion</text>
<text x="152.9" y="310.5" font-size="8.3" text-anchor="middle" textLength="108.2" lengthAdjust="spacingAndGlyphs" fill="#231f20" stroke="#231f20" stroke-width="0.15">TNF-α versus tumor volume</text>
<text x="70.9" y="327.8" font-size="6.3" textLength="54.2" lengthAdjust="spacingAndGlyphs" fill="#231f20">R = 0.86 (P &lt; .001)</text>
<line x1="64.9" y1="315.9" x2="64.9" y2="497.6" stroke="#333" stroke-width="1.3"/>
<line x1="64.25" y1="497.0" x2="240.4" y2="497.0" stroke="#333" stroke-width="1.3"/>
<line x1="61.8" y1="319" x2="64.9" y2="319" stroke="#333" stroke-width="1.1"/>
<text x="58.6" y="321.3" font-size="6.4" text-anchor="end" fill="#231f20">100</text>
<line x1="61.8" y1="367" x2="64.9" y2="367" stroke="#333" stroke-width="1.1"/>
<text x="58.6" y="369.3" font-size="6.4" text-anchor="end" fill="#231f20">30</text>
<line x1="61.8" y1="414.5" x2="64.9" y2="414.5" stroke="#333" stroke-width="1.1"/>
<text x="58.6" y="416.8" font-size="6.4" text-anchor="end" fill="#231f20">10</text>
<line x1="61.8" y1="462.7" x2="64.9" y2="462.7" stroke="#333" stroke-width="1.1"/>
<text x="58.6" y="465.0" font-size="6.4" text-anchor="end" fill="#231f20">3</text>
<line x1="105.8" y1="497" x2="105.8" y2="500" stroke="#333" stroke-width="1.1"/>
<text x="105.8" y="508.8" font-size="6.4" text-anchor="middle" fill="#231f20">10</text>
<line x1="159" y1="497" x2="159" y2="500" stroke="#333" stroke-width="1.1"/>
<text x="159" y="508.8" font-size="6.4" text-anchor="middle" fill="#231f20">100</text>
<line x1="211.9" y1="497" x2="211.9" y2="500" stroke="#333" stroke-width="1.1"/>
<text x="211.9" y="508.8" font-size="6.4" text-anchor="middle" fill="#231f20">1000</text>
<text x="152.9" y="521.2" font-size="8.2" text-anchor="middle" textLength="90.5" lengthAdjust="spacingAndGlyphs" fill="#231f20" stroke="#231f20" stroke-width="0.2">Metabolic tumor volume (mL)</text>
<text x="44.3" y="406.3" font-size="6.8" text-anchor="middle" textLength="45.3" lengthAdjust="spacingAndGlyphs" fill="#231f20" transform="rotate(-90 44.3 406.3)">TNF-α (pg/mL)</text>
<circle cx="218.7" cy="324.2" r="2.1" fill="#17375c"/>
<circle cx="225.1" cy="341" r="2.1" fill="#17375c"/>
<circle cx="184" cy="343.7" r="2.1" fill="#17375c"/>
<circle cx="186.4" cy="350" r="2.1" fill="#17375c"/>
<circle cx="212.3" cy="344.6" r="2.1" fill="#17375c"/>
<circle cx="214" cy="343.3" r="2.1" fill="#17375c"/>
<circle cx="201.5" cy="358.7" r="2.1" fill="#17375c"/>
<circle cx="205.7" cy="358.5" r="2.1" fill="#17375c"/>
<circle cx="219.1" cy="359.4" r="2.1" fill="#17375c"/>
<circle cx="221.2" cy="363.5" r="2.1" fill="#17375c"/>
<circle cx="218.5" cy="367.2" r="2.1" fill="#17375c"/>
<circle cx="233.1" cy="362.5" r="2.1" fill="#17375c"/>
<circle cx="216" cy="382.7" r="2.1" fill="#17375c"/>
<circle cx="227.5" cy="382.3" r="2.1" fill="#17375c"/>
<circle cx="185.5" cy="390.7" r="2.1" fill="#17375c"/>
<circle cx="200.6" cy="391.2" r="2.1" fill="#17375c"/>
<circle cx="196.5" cy="393.6" r="2.1" fill="#17375c"/>
<circle cx="196.8" cy="397.5" r="2.1" fill="#17375c"/>
<circle cx="205.7" cy="395.2" r="2.1" fill="#17375c"/>
<circle cx="209.3" cy="397.9" r="2.1" fill="#17375c"/>
<circle cx="221" cy="394.5" r="2.1" fill="#17375c"/>
<circle cx="175.3" cy="396.6" r="2.1" fill="#17375c"/>
<circle cx="181.1" cy="398.6" r="2.1" fill="#17375c"/>
<circle cx="183.8" cy="400.7" r="2.1" fill="#17375c"/>
<circle cx="186.7" cy="403.5" r="2.1" fill="#17375c"/>
<circle cx="214.3" cy="403.9" r="2.1" fill="#17375c"/>
<circle cx="188.1" cy="410.8" r="2.1" fill="#17375c"/>
<circle cx="193.2" cy="410.7" r="2.1" fill="#17375c"/>
<circle cx="177.3" cy="420.3" r="2.1" fill="#17375c"/>
<circle cx="181.5" cy="419.4" r="2.1" fill="#17375c"/>
<circle cx="186.3" cy="419.7" r="2.1" fill="#17375c"/>
<circle cx="176.4" cy="422.6" r="2.1" fill="#17375c"/>
<circle cx="193.4" cy="422.1" r="2.1" fill="#17375c"/>
<circle cx="178.7" cy="430.9" r="2.1" fill="#17375c"/>
<circle cx="174.5" cy="432.2" r="2.1" fill="#17375c"/>
<circle cx="190" cy="434.5" r="2.1" fill="#17375c"/>
<circle cx="175.6" cy="440.5" r="2.1" fill="#17375c"/>
<circle cx="172.5" cy="410" r="2.1" fill="#17375c"/>
<circle cx="159" cy="416" r="2.1" fill="#17375c"/>
<circle cx="165.4" cy="415" r="2.1" fill="#17375c"/>
<circle cx="166.7" cy="418.7" r="2.1" fill="#17375c"/>
<circle cx="164.4" cy="420.8" r="2.1" fill="#17375c"/>
<circle cx="172.5" cy="421" r="2.1" fill="#17375c"/>
<circle cx="171.8" cy="423" r="2.1" fill="#17375c"/>
<circle cx="135" cy="426.3" r="2.1" fill="#17375c"/>
<circle cx="127" cy="428.8" r="2.1" fill="#17375c"/>
<circle cx="144.7" cy="430.4" r="2.1" fill="#17375c"/>
<circle cx="163.3" cy="426.8" r="2.1" fill="#17375c"/>
<circle cx="164.5" cy="432.8" r="2.1" fill="#17375c"/>
<circle cx="167.1" cy="432" r="2.1" fill="#17375c"/>
<circle cx="147.3" cy="437.6" r="2.1" fill="#17375c"/>
<circle cx="157.4" cy="438" r="2.1" fill="#17375c"/>
<circle cx="159" cy="442.2" r="2.1" fill="#17375c"/>
<circle cx="164" cy="442.2" r="2.1" fill="#17375c"/>
<circle cx="171.8" cy="443.8" r="2.1" fill="#17375c"/>
<circle cx="172.5" cy="441.6" r="2.1" fill="#17375c"/>
<circle cx="150.7" cy="444.7" r="2.1" fill="#17375c"/>
<circle cx="187.3" cy="448.4" r="2.1" fill="#17375c"/>
<circle cx="125.1" cy="449.2" r="2.1" fill="#17375c"/>
<circle cx="129.9" cy="453" r="2.1" fill="#17375c"/>
<circle cx="133.5" cy="454.9" r="2.1" fill="#17375c"/>
<circle cx="153" cy="451.5" r="2.1" fill="#17375c"/>
<circle cx="151.9" cy="457.6" r="2.1" fill="#17375c"/>
<circle cx="161.7" cy="454.9" r="2.1" fill="#17375c"/>
<circle cx="161.7" cy="457.3" r="2.1" fill="#17375c"/>
<circle cx="143.8" cy="459.9" r="2.1" fill="#17375c"/>
<circle cx="123.6" cy="460.6" r="2.1" fill="#17375c"/>
<circle cx="156.1" cy="465.7" r="2.1" fill="#17375c"/>
<circle cx="136.4" cy="468" r="2.1" fill="#17375c"/>
<circle cx="135.7" cy="472.1" r="2.1" fill="#17375c"/>
<circle cx="146.9" cy="467.4" r="2.1" fill="#17375c"/>
<circle cx="122.3" cy="470.6" r="2.1" fill="#17375c"/>
<circle cx="148.9" cy="489" r="2.1" fill="#17375c"/>
<circle cx="153" cy="487.5" r="2.1" fill="#17375c"/>
<circle cx="80.9" cy="446.1" r="2.1" fill="#17375c"/>
<circle cx="110.8" cy="446.3" r="2.1" fill="#17375c"/>
<circle cx="107.8" cy="451.2" r="2.1" fill="#17375c"/>
<circle cx="76.7" cy="461.1" r="2.1" fill="#17375c"/>
<circle cx="80.7" cy="462.5" r="2.1" fill="#17375c"/>
<circle cx="83.4" cy="467.5" r="2.1" fill="#17375c"/>
<circle cx="73.3" cy="469.1" r="2.1" fill="#17375c"/>
<circle cx="86.9" cy="472.3" r="2.1" fill="#17375c"/>
<circle cx="106.5" cy="470.7" r="2.1" fill="#17375c"/>
<text x="413.70000000000005" y="310.5" font-size="8.3" text-anchor="middle" textLength="103" lengthAdjust="spacingAndGlyphs" fill="#231f20" stroke="#231f20" stroke-width="0.15">IL-10 versus tumor volume</text>
<text x="333.2" y="327.8" font-size="6.3" textLength="50" lengthAdjust="spacingAndGlyphs" fill="#231f20">R = 0.8 (<tspan font-style="italic">P</tspan> &lt; .001)</text>
<line x1="325.70000000000005" y1="315.9" x2="325.70000000000005" y2="497.6" stroke="#333" stroke-width="1.3"/>
<line x1="325.05" y1="497.0" x2="501.20000000000005" y2="497.0" stroke="#333" stroke-width="1.3"/>
<line x1="322.6" y1="332.5" x2="325.70000000000005" y2="332.5" stroke="#333" stroke-width="1.1"/>
<text x="319.40000000000003" y="334.8" font-size="6.4" text-anchor="end" fill="#231f20">100</text>
<line x1="322.6" y1="394" x2="325.70000000000005" y2="394" stroke="#333" stroke-width="1.1"/>
<text x="319.40000000000003" y="396.3" font-size="6.4" text-anchor="end" fill="#231f20">10</text>
<line x1="322.6" y1="455.3" x2="325.70000000000005" y2="455.3" stroke="#333" stroke-width="1.1"/>
<text x="319.40000000000003" y="457.6" font-size="6.4" text-anchor="end" fill="#231f20">1</text>
<line x1="366.6" y1="497" x2="366.6" y2="500" stroke="#333" stroke-width="1.1"/>
<text x="366.6" y="508.8" font-size="6.4" text-anchor="middle" fill="#231f20">10</text>
<line x1="419.8" y1="497" x2="419.8" y2="500" stroke="#333" stroke-width="1.1"/>
<text x="419.8" y="508.8" font-size="6.4" text-anchor="middle" fill="#231f20">100</text>
<line x1="472.70000000000005" y1="497" x2="472.70000000000005" y2="500" stroke="#333" stroke-width="1.1"/>
<text x="472.70000000000005" y="508.8" font-size="6.4" text-anchor="middle" fill="#231f20">1000</text>
<text x="413.70000000000005" y="521.2" font-size="8.2" text-anchor="middle" textLength="90.5" lengthAdjust="spacingAndGlyphs" fill="#231f20" stroke="#231f20" stroke-width="0.2">Metabolic tumor volume (mL)</text>
<text x="304.20000000000005" y="408" font-size="6.8" text-anchor="middle" textLength="46.6" lengthAdjust="spacingAndGlyphs" fill="#231f20" transform="rotate(-90 304.20000000000005 408)">IL-10 (pg/mL)</text>
<circle cx="466.6" cy="325.4" r="2.1" fill="#17375c"/>
<circle cx="486.1" cy="341.9" r="2.1" fill="#17375c"/>
<circle cx="474.7" cy="353" r="2.1" fill="#17375c"/>
<circle cx="475.4" cy="359.1" r="2.1" fill="#17375c"/>
<circle cx="479.4" cy="372.9" r="2.1" fill="#17375c"/>
<circle cx="482.5" cy="371.9" r="2.1" fill="#17375c"/>
<circle cx="494" cy="381.3" r="2.1" fill="#17375c"/>
<circle cx="432.8" cy="357" r="2.1" fill="#17375c"/>
<circle cx="444.7" cy="388.5" r="2.1" fill="#17375c"/>
<circle cx="448.7" cy="390.1" r="2.1" fill="#17375c"/>
<circle cx="457.9" cy="390.9" r="2.1" fill="#17375c"/>
<circle cx="461.9" cy="388.1" r="2.1" fill="#17375c"/>
<circle cx="457.9" cy="396.5" r="2.1" fill="#17375c"/>
<circle cx="488.8" cy="391.2" r="2.1" fill="#17375c"/>
<circle cx="473.6" cy="394.5" r="2.1" fill="#17375c"/>
<circle cx="479.4" cy="396.5" r="2.1" fill="#17375c"/>
<circle cx="482.1" cy="399.9" r="2.1" fill="#17375c"/>
<circle cx="480.8" cy="403.7" r="2.1" fill="#17375c"/>
<circle cx="445.1" cy="402.6" r="2.1" fill="#17375c"/>
<circle cx="442.4" cy="404.6" r="2.1" fill="#17375c"/>
<circle cx="469.7" cy="404.3" r="2.1" fill="#17375c"/>
<circle cx="470" cy="408" r="2.1" fill="#17375c"/>
<circle cx="446.7" cy="409.3" r="2.1" fill="#17375c"/>
<circle cx="462.6" cy="410.3" r="2.1" fill="#17375c"/>
<circle cx="443.1" cy="415.8" r="2.1" fill="#17375c"/>
<circle cx="436.3" cy="417.4" r="2.1" fill="#17375c"/>
<circle cx="438.6" cy="420.8" r="2.1" fill="#17375c"/>
<circle cx="466.2" cy="420.5" r="2.1" fill="#17375c"/>
<circle cx="477.8" cy="423.2" r="2.1" fill="#17375c"/>
<circle cx="447.4" cy="426.1" r="2.1" fill="#17375c"/>
<circle cx="454.1" cy="425.5" r="2.1" fill="#17375c"/>
<circle cx="436.1" cy="429.5" r="2.1" fill="#17375c"/>
<circle cx="447.4" cy="431.5" r="2.1" fill="#17375c"/>
<circle cx="452.1" cy="431.5" r="2.1" fill="#17375c"/>
<circle cx="435.5" cy="444.2" r="2.1" fill="#17375c"/>
<circle cx="426.8" cy="413.4" r="2.1" fill="#17375c"/>
<circle cx="388.1" cy="419.7" r="2.1" fill="#17375c"/>
<circle cx="394.2" cy="422.3" r="2.1" fill="#17375c"/>
<circle cx="414.3" cy="420.1" r="2.1" fill="#17375c"/>
<circle cx="424.8" cy="419.8" r="2.1" fill="#17375c"/>
<circle cx="426.1" cy="428.8" r="2.1" fill="#17375c"/>
<circle cx="432.6" cy="427.8" r="2.1" fill="#17375c"/>
<circle cx="407.8" cy="437.6" r="2.1" fill="#17375c"/>
<circle cx="411.4" cy="437.6" r="2.1" fill="#17375c"/>
<circle cx="427" cy="439" r="2.1" fill="#17375c"/>
<circle cx="422.8" cy="443.8" r="2.1" fill="#17375c"/>
<circle cx="425.5" cy="445.9" r="2.1" fill="#17375c"/>
<circle cx="432.9" cy="450.2" r="2.1" fill="#17375c"/>
<circle cx="437.6" cy="449.8" r="2.1" fill="#17375c"/>
<circle cx="391.8" cy="454.1" r="2.1" fill="#17375c"/>
<circle cx="418.1" cy="453.1" r="2.1" fill="#17375c"/>
<circle cx="425.7" cy="454.9" r="2.1" fill="#17375c"/>
<circle cx="439.6" cy="458.3" r="2.1" fill="#17375c"/>
<circle cx="404.9" cy="458.7" r="2.1" fill="#17375c"/>
<circle cx="396.8" cy="463.2" r="2.1" fill="#17375c"/>
<circle cx="393.9" cy="468.4" r="2.1" fill="#17375c"/>
<circle cx="420.1" cy="466.6" r="2.1" fill="#17375c"/>
<circle cx="420.1" cy="470.8" r="2.1" fill="#17375c"/>
<circle cx="433.3" cy="467.7" r="2.1" fill="#17375c"/>
<circle cx="333.7" cy="460.3" r="2.1" fill="#17375c"/>
<circle cx="341.9" cy="453.8" r="2.1" fill="#17375c"/>
<circle cx="337.8" cy="490.3" r="2.1" fill="#17375c"/>
<circle cx="340.8" cy="490.3" r="2.1" fill="#17375c"/>
<circle cx="343.9" cy="490.3" r="2.1" fill="#17375c"/>
<circle cx="347.3" cy="490.3" r="2.1" fill="#17375c"/>
<circle cx="366.8" cy="490.3" r="2.1" fill="#17375c"/>
<circle cx="369.3" cy="490.3" r="2.1" fill="#17375c"/>
<circle cx="372" cy="490.3" r="2.1" fill="#17375c"/>
<circle cx="383" cy="490.3" r="2.1" fill="#17375c"/>
<circle cx="385.3" cy="490.3" r="2.1" fill="#17375c"/>
<circle cx="390.2" cy="490.3" r="2.1" fill="#17375c"/>
<circle cx="396.9" cy="490.3" r="2.1" fill="#17375c"/>
<circle cx="406" cy="490.3" r="2.1" fill="#17375c"/>
<circle cx="408.9" cy="490.3" r="2.1" fill="#17375c"/>
<circle cx="411.6" cy="490.3" r="2.1" fill="#17375c"/>
<circle cx="414.3" cy="490.3" r="2.1" fill="#17375c"/>
<circle cx="417" cy="490.3" r="2.1" fill="#17375c"/>
<circle cx="422.1" cy="490.3" r="2.1" fill="#17375c"/>
<circle cx="425.1" cy="490.3" r="2.1" fill="#17375c"/>
<circle cx="433.5" cy="490.3" r="2.1" fill="#17375c"/>
<text x="7" y="16.8" font-size="11.7" font-weight="bold" fill="#111" stroke="#111" stroke-width="0.5">A</text>
<text x="268" y="16.8" font-size="11.7" font-weight="bold" fill="#111" stroke="#111" stroke-width="0.5">B</text>
<text x="7" y="297.6" font-size="11.7" font-weight="bold" fill="#111" stroke="#111" stroke-width="0.5">C</text>
<text x="268" y="297.6" font-size="11.7" font-weight="bold" fill="#111" stroke="#111" stroke-width="0.5">D</text>
</svg></div></body></html>
